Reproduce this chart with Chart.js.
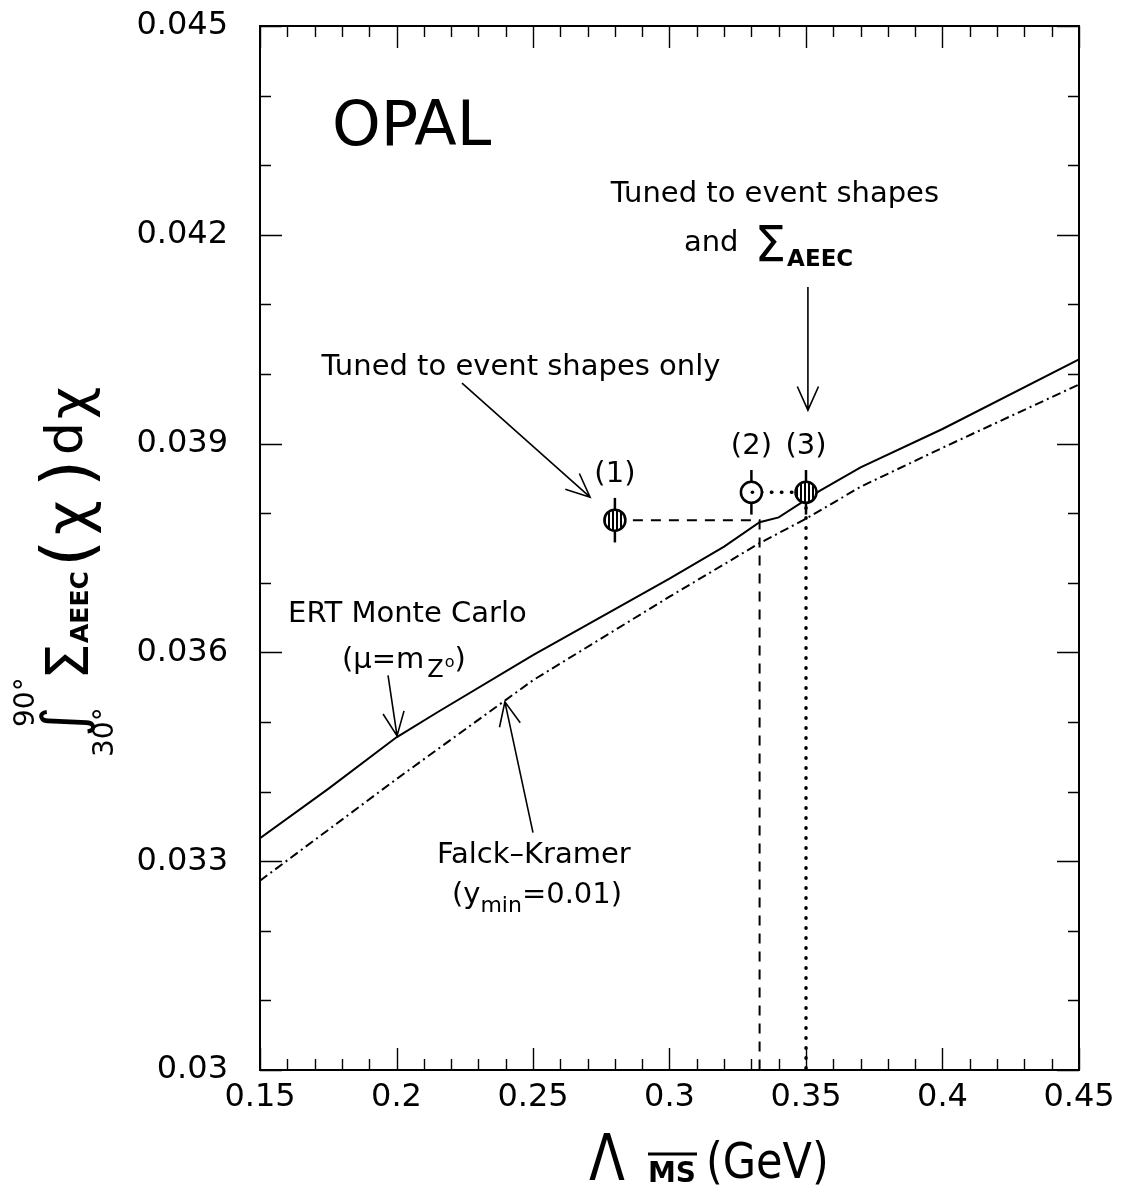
<!DOCTYPE html>
<html>
<head>
<meta charset="utf-8">
<script src="https://cdn.jsdelivr.net/npm/chart.js@4.4.1/dist/chart.umd.min.js"></script>
<style>
  html, body { margin: 0; padding: 0; background: #fff; }
  canvas { display: block; }
</style>
</head>
<body>
<canvas id="chart" width="1123" height="1192"></canvas>
<script>
// ---- data -------------------------------------------------------------
// ERT Monte Carlo (mu = m_Z0): integrated AEEC vs Lambda_MSbar
const lambdaERT = [0.15, 0.175, 0.2, 0.215, 0.25, 0.3, 0.32, 0.333, 0.34, 0.355, 0.37, 0.4, 0.45];
const sigmaERT  = [0.03333, 0.03404, 0.03478, 0.03514, 0.03596, 0.03706, 0.03752, 0.03787, 0.03794, 0.03832, 0.03866, 0.03921, 0.04021];

// Falck-Kramer (y_min = 0.01)
const lambdaFK = [0.15, 0.2, 0.25, 0.3, 0.333, 0.35, 0.37, 0.4, 0.45];
const sigmaFK  = [0.03272, 0.03418, 0.03560, 0.03680, 0.03757, 0.03792, 0.03838, 0.03894, 0.03985];

// tuned Monte Carlo values (1), (2), (3)
const tunedLabels = ['(1)', '(2)', '(3)'];
const tunedLambda = [0.28, 0.33, 0.35];
const tunedSigma  = [0.0379, 0.0383, 0.0383];
const tunedErr    = [0.00032, 0.00032, 0.00032];

// Lambda for value (1)
const fitLambda1 = 0.333;

// axis tick labels
const xTickValues = [0.15, 0.2, 0.25, 0.3, 0.35, 0.4, 0.45];
const xTickLabels = ['0.15', '0.2', '0.25', '0.3', '0.35', '0.4', '0.45'];
const yTickValues = [0.03, 0.033, 0.036, 0.039, 0.042, 0.045];
const yTickLabels = ['0.03', '0.033', '0.036', '0.039', '0.042', '0.045'];

// ---- drawing helpers ---------------------------------------------------
const FAM = '"DejaVu Sans", "Liberation Sans", sans-serif';
const f = (spec) => spec + ' ' + FAM;

const canvas = document.getElementById('chart');
const ctx = canvas.getContext('2d');

// vertical-stripe fill for the shaded markers
const pc = document.createElement('canvas');
pc.width = 4; pc.height = 4;
const pg = pc.getContext('2d');
pg.fillStyle = '#fff'; pg.fillRect(0, 0, 4, 4);
pg.fillStyle = '#000'; pg.fillRect(0, 0, 2, 4);
const hatch = ctx.createPattern(pc, 'repeat');

// text runs: each part may change font, shift and squeeze horizontally
function richWidth(c, parts) {
  let w = 0;
  for (const p of parts) {
    c.font = f(p.f || '29px');
    w += (p.dx || 0) + c.measureText(p.t).width * (p.sx || 1);
  }
  return w;
}
function drawRich(c, x, y, parts, align) {
  let cx = align === 'center' ? x - richWidth(c, parts) / 2 : x;
  c.textAlign = 'left';
  c.textBaseline = 'alphabetic';
  for (const p of parts) {
    c.font = f(p.f || '29px');
    cx += (p.dx || 0);
    c.save();
    c.translate(cx, y + (p.dy || 0));
    c.scale(p.sx || 1, 1);
    c.fillText(p.t, 0, 0);
    c.restore();
    cx += c.measureText(p.t).width * (p.sx || 1);
  }
  return cx;
}
function arrowPx(c, x1, y1, x2, y2) {
  const a = Math.atan2(y2 - y1, x2 - x1), L = 26, h = 0.42;
  c.beginPath();
  c.moveTo(x1, y1); c.lineTo(x2, y2);
  c.moveTo(x2 - L * Math.cos(a - h), y2 - L * Math.sin(a - h));
  c.lineTo(x2, y2);
  c.lineTo(x2 - L * Math.cos(a + h), y2 - L * Math.sin(a + h));
  c.stroke();
}

// annotation texts, anchored in data units (Lambda, sigma)
const notes = [
  { x: 0.1764, y: 0.04329, parts: [{ t: 'OPAL', f: '62px' }] },
  { x: 0.3386, y: 0.04247, align: 'center', parts: [{ t: 'Tuned to event shapes' }] },
  { x: 0.3053, y: 0.04177, parts: [{ t: 'and' }, { t: 'Σ', f: '50px', dx: 16, dy: 10 }, { t: 'AEEC', f: 'bold 23px', dx: 1, dy: 15 }] },
  { x: 0.2456, y: 0.03999, align: 'center', parts: [{ t: 'Tuned to event shapes only' }] },
  { x: 0.1603, y: 0.03644, parts: [{ t: 'ERT Monte Carlo' }] },
  { x: 0.1800, y: 0.03578, parts: [{ t: '(μ=m' }, { t: 'Z', f: '24px', dx: 3, dy: 9 }, { t: 'o', f: '16px', dx: 1, dy: -1 }, { t: ')' }] },
  { x: 0.2148, y: 0.03297, parts: [{ t: 'Falck–Kramer' }] },
  { x: 0.2203, y: 0.03240, parts: [{ t: '(y' }, { t: 'min', f: '22px', dy: 9 }, { t: '=0.01)' }] }
];
// arrows: tail -> head, in data units
const arrows = [
  [0.2240, 0.03987, 0.2709, 0.03823],
  [0.3507, 0.04125, 0.3507, 0.03948],
  [0.1969, 0.03567, 0.2002, 0.03480],
  [0.2500, 0.03341, 0.2397, 0.03529]
];

const decorPlugin = {
  id: 'decor',
  beforeDatasetsDraw(chart) {
    const c = chart.ctx, xs = chart.scales.x, ys = chart.scales.y;
    c.save();
    c.strokeStyle = '#000';
    c.lineWidth = 2.5;
    // vertical error bars of the tuned values
    tunedLambda.forEach((lx, i) => {
      const px = xs.getPixelForValue(lx);
      c.beginPath();
      c.moveTo(px, ys.getPixelForValue(tunedSigma[i] - tunedErr[i]));
      c.lineTo(px, ys.getPixelForValue(tunedSigma[i] + tunedErr[i]));
      c.stroke();
    });
    c.restore();
  },
  afterDatasetsDraw(chart) {
    const c = chart.ctx, xs = chart.scales.x, ys = chart.scales.y;
    // centre dot of the open marker (2)
    c.save();
    c.fillStyle = '#000';
    c.beginPath();
    c.arc(xs.getPixelForValue(tunedLambda[1]) + 1, ys.getPixelForValue(tunedSigma[1]), 1.8, 0, Math.PI * 2);
    c.fill();
    c.restore();
  },
  afterDraw(chart) {
    const c = chart.ctx, a = chart.chartArea, xs = chart.scales.x, ys = chart.scales.y;
    c.save();
    c.fillStyle = '#000';
    c.strokeStyle = '#000';

    // frame
    c.lineWidth = 2;
    c.strokeRect(a.left, a.top, a.right - a.left, a.bottom - a.top);

    // inward ticks on all four sides
    c.lineWidth = 1.4;
    c.beginPath();
    for (let i = 0; i <= 30; i++) {
      const px = Math.round(xs.getPixelForValue(0.15 + i * 0.01)) + 0.5;
      const len = i % 5 === 0 ? 22 : 11;
      c.moveTo(px, a.bottom); c.lineTo(px, a.bottom - len);
      c.moveTo(px, a.top); c.lineTo(px, a.top + len);
    }
    for (let i = 0; i <= 15; i++) {
      const py = Math.round(ys.getPixelForValue(0.03 + i * 0.001)) + 0.5;
      const len = i % 3 === 0 ? 22 : 11;
      c.moveTo(a.left, py); c.lineTo(a.left + len, py);
      c.moveTo(a.right, py); c.lineTo(a.right - len, py);
    }
    c.stroke();

    // point labels (1) (2) (3)
    c.font = f('29px');
    c.textAlign = 'center';
    c.textBaseline = 'alphabetic';
    tunedLabels.forEach((t, i) => {
      c.fillText(t, xs.getPixelForValue(tunedLambda[i]), ys.getPixelForValue(tunedSigma[i] + 0.00055));
    });

    // annotation texts and arrows
    notes.forEach(n => drawRich(c, xs.getPixelForValue(n.x), ys.getPixelForValue(n.y), n.parts, n.align));
    c.lineWidth = 1.6;
    arrows.forEach(([x1, y1, x2, y2]) => arrowPx(c,
      xs.getPixelForValue(x1), ys.getPixelForValue(y1),
      xs.getPixelForValue(x2), ys.getPixelForValue(y2)));

    // x-axis title: Lambda_MSbar (GeV)
    drawRich(c, 589, 1180, [{ t: 'Λ', f: '64px', sx: 0.82 }]);
    c.textAlign = 'left';
    c.font = f('bold 28px');
    c.fillText('MS', 648, 1182);
    c.lineWidth = 3;
    c.beginPath(); c.moveTo(648, 1154); c.lineTo(697, 1154); c.stroke();
    drawRich(c, 706, 1178, [{ t: '(GeV)', f: '50px', sx: 0.86 }]);

    // y-axis title, rotated: integral 30..90 deg of Sigma_AEEC(chi) dchi
    c.save();
    c.translate(82, 753);
    c.rotate(-Math.PI / 2);
    c.textAlign = 'left';
    c.textBaseline = 'alphabetic';
    const put = (t, spec, u, v) => { c.font = f(spec); c.fillText(t, u, v); };
    put('∫', '58px', 16, 1);
    put('90°', '28px', 26, -48);
    put('30°', '28px', -4, 31);
    put('Σ', '58px', 73, 6);
    put('AEEC', 'bold 25px', 110, 6);
    put('(', '70px', 186, 9);
    put('χ', '60px', 218, 6);
    put(')', '70px', 266, 9);
    put('d', '52px', 298, 0);
    put('χ', '56px', 334, 6);
    c.restore();

    c.restore();
  }
};

Chart.defaults.font.family = FAM;
Chart.defaults.color = '#000';

const xy = (xsArr, ysArr) => xsArr.map((x, i) => ({ x, y: ysArr[i] }));

new Chart(ctx, {
  type: 'line',
  data: {
    datasets: [
      {
        label: 'Tuned values',
        type: 'scatter',
        data: xy(tunedLambda, tunedSigma),
        pointRadius: 10.5,
        pointBorderWidth: 2.5,
        pointBorderColor: '#000',
        pointBackgroundColor: [hatch, '#fff', hatch],
        order: 0
      },
      {
        label: 'ERT Monte Carlo',
        data: xy(lambdaERT, sigmaERT),
        borderColor: '#000',
        borderWidth: 2,
        pointRadius: 0,
        tension: 0,
        order: 1
      },
      {
        label: 'Falck-Kramer',
        data: xy(lambdaFK, sigmaFK),
        borderColor: '#000',
        borderWidth: 2,
        borderDash: [9, 4, 2, 4],
        pointRadius: 0,
        tension: 0,
        order: 2
      },
      {
        label: 'Lambda from (1)',
        data: [
          { x: tunedLambda[0], y: tunedSigma[0] },
          { x: fitLambda1, y: tunedSigma[0] },
          { x: fitLambda1, y: 0.03 }
        ],
        borderColor: '#000',
        borderWidth: 2,
        borderDash: [10, 8],
        pointRadius: 0,
        order: 3
      },
      {
        label: 'Lambda from (3)',
        data: [
          { x: tunedLambda[1], y: tunedSigma[1] },
          { x: tunedLambda[2], y: tunedSigma[2] },
          { x: tunedLambda[2], y: 0.03 }
        ],
        borderColor: '#000',
        borderWidth: 3.5,
        borderDash: [0.5, 9.5],
        borderCapStyle: 'round',
        pointRadius: 0,
        order: 4
      }
    ]
  },
  options: {
    responsive: false,
    animation: false,
    devicePixelRatio: 1,
    layout: { padding: { left: 0, top: 26, right: 44, bottom: 0 } },
    plugins: { legend: { display: false }, tooltip: { enabled: false } },
    scales: {
      x: {
        type: 'linear',
        min: 0.15,
        max: 0.45,
        afterFit(s) { s.height = 122; s.paddingLeft = 0; s.paddingRight = 0; },
        grid: { display: false, drawTicks: false },
        border: { display: false },
        ticks: {
          stepSize: 0.05,
          autoSkip: false,
          maxRotation: 0,
          padding: 8,
          font: { size: 32 },
          color: '#000',
          callback: (v) => {
            const i = xTickValues.findIndex(t => Math.abs(t - v) < 1e-6);
            return i >= 0 ? xTickLabels[i] : '';
          }
        }
      },
      y: {
        type: 'linear',
        min: 0.03,
        max: 0.045,
        afterFit(s) { s.width = 260; s.paddingTop = 0; s.paddingBottom = 0; },
        grid: { display: false, drawTicks: false },
        border: { display: false },
        ticks: {
          stepSize: 0.003,
          autoSkip: false,
          padding: 32,
          font: { size: 32 },
          color: '#000',
          callback: (v) => {
            const i = yTickValues.findIndex(t => Math.abs(t - v) < 1e-7);
            return i >= 0 ? yTickLabels[i] : '';
          }
        }
      }
    }
  },
  plugins: [decorPlugin]
});
</script>
</body>
</html>
